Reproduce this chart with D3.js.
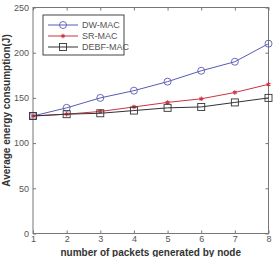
<!DOCTYPE html>
<html><head><meta charset="utf-8">
<script src="https://cdn.jsdelivr.net/npm/d3@7"></script>
<style>body{margin:0;background:#fff}svg{display:block}text{font-family:"Liberation Sans",Arial,sans-serif}</style>
</head><body><svg id="c" width="276" height="257"></svg>
<script>
const xValues = [1,2,3,4,5,6,7,8];
const dwMac = [130,139,150,158,168,180,190,210];
const srMac = [130,132,135,140,145,149,156,165];
const debfMac = [130,132,133,136,139,140,145,150];
const yTicks = [0,50,100,150,200,250];
const seriesNames = ["DW-MAC","SR-MAC","DEBF-MAC"];

const svg = d3.select("#c");
const L=33, R=268.5, T=7.5, B=233.5;
const x = d3.scaleLinear().domain([1,8]).range([L,R]);
const y = d3.scaleLinear().domain([0,250]).range([B,T]);

svg.append("rect").attr("x",L).attr("y",T).attr("width",R-L).attr("height",B-T).attr("fill","#fff").attr("stroke","#777").attr("stroke-width",1);

const gx = svg.append("g").attr("transform",`translate(0,${B})`).call(d3.axisBottom(x).tickValues(xValues).tickSize(-3).tickPadding(2).tickFormat(d3.format("d")));
const gxt = svg.append("g").attr("transform",`translate(0,${T})`).call(d3.axisTop(x).tickValues(xValues).tickSize(-3).tickFormat(""));
const gy = svg.append("g").attr("transform",`translate(${L},0)`).call(d3.axisLeft(y).tickValues(yTicks).tickSize(-3).tickPadding(4));
const gyr = svg.append("g").attr("transform",`translate(${R},0)`).call(d3.axisRight(y).tickValues(yTicks).tickSize(-3).tickFormat(""));
[gx,gxt,gy,gyr].forEach(g=>{g.select(".domain").remove();g.selectAll("line").attr("stroke","#777");g.selectAll("text").attr("fill","#555").attr("font-size",9).attr("font-family","Liberation Sans, Arial, sans-serif");});

const colors = ["#5a5ab4","#cc3344","#333333"];
const data = [dwMac, srMac, debfMac];
const line = d3.line().x((d,i)=>x(xValues[i])).y(d=>y(d));

function marker(g, k, cx, cy){
  if(k===0) g.append("circle").attr("cx",cx).attr("cy",cy).attr("r",3.5).attr("fill","none").attr("stroke",colors[0]).attr("stroke-width",0.9);
  else if(k===1){
    g.append("path").attr("d",d3.symbol(d3.symbolAsterisk,14)()).attr("transform",`translate(${cx},${cy})`).attr("stroke",colors[1]).attr("stroke-width",1.1).attr("fill","none");
  } else g.append("rect").attr("x",cx-3.5).attr("y",cy-3.5).attr("width",7).attr("height",7).attr("fill","none").attr("stroke",colors[2]).attr("stroke-width",0.9);
}

data.forEach((s,k)=>{
  svg.append("path").datum(s).attr("d",line).attr("fill","none").attr("stroke",colors[k]).attr("stroke-width",1);
  const g=svg.append("g");
  s.forEach((v,i)=>marker(g,k,x(xValues[i]),y(v)));
});

// legend
const lg = svg.append("g");
lg.append("rect").attr("x",43).attr("y",15).attr("width",81).attr("height",40).attr("fill","#fff").attr("stroke","#444").attr("stroke-width",1);
const ly=[25,36,47];
seriesNames.forEach((n,k)=>{
  lg.append("line").attr("x1",48).attr("x2",78).attr("y1",ly[k]).attr("y2",ly[k]).attr("stroke",colors[k]).attr("stroke-width",1);
  marker(lg,k,63,ly[k]);
  lg.append("text").attr("x",82).attr("y",ly[k]+3.3).attr("font-size",9).attr("fill","#555").text(n);
});

svg.append("text").attr("x",(L+R)/2).attr("y",255.5).attr("text-anchor","middle").attr("font-size",10).attr("font-weight","bold").attr("fill","#333").text("number of packets generated by node");
svg.append("text").attr("transform",`translate(10,${(T+B)/2-10}) rotate(-90)`).attr("text-anchor","middle").attr("font-size",10).attr("font-weight","bold").attr("fill","#333").text("Average energy consumption(J)");
</script></body></html>
